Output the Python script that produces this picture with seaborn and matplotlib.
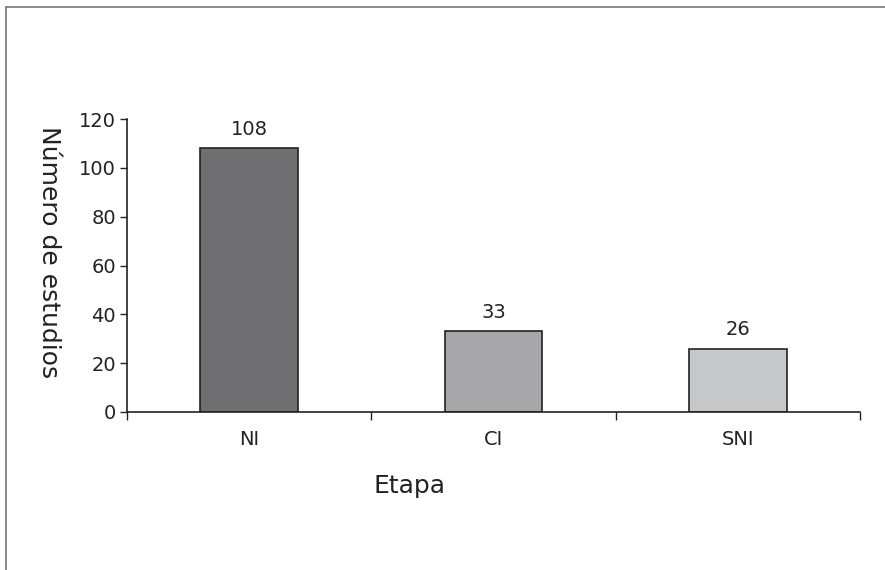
import matplotlib
matplotlib.use("Agg")
import matplotlib.pyplot as plt
import seaborn as sns
import pandas as pd

# data
etapas = ["NI", "CI", "SNI"]
estudios = [108, 33, 26]
colores = ["#6e6f73", "#a6a7aa", "#c6c7c9"]
yticks = [0, 20, 40, 60, 80, 100, 120]

df = pd.DataFrame({"Etapa": etapas, "Estudios": estudios})

sns.set_style("white")
plt.rcParams["font.family"] = ["DejaVu Sans"]

fig = plt.figure(figsize=(8.85, 5.70), dpi=100)
ax = fig.add_axes([0.1435, 0.2772, 0.8283, 0.514])

sns.barplot(data=df, x="Etapa", y="Estudios", hue="Etapa", palette=colores,
            width=0.4, edgecolor="#222222", linewidth=1.2, legend=False, ax=ax)

for i, v in enumerate(estudios):
    ax.text(i, v + 4, str(v), ha="center", va="bottom", fontsize=14, color="#222222")

ax.set_ylim(0, 120)
ax.set_xlim(-0.5, len(etapas) - 0.5)
ax.set_yticks(yticks)
ax.tick_params(axis="y", labelsize=14, length=5, width=1, colors="#222222", pad=3, direction="out", left=True)
ax.tick_params(axis="x", which="major", labelsize=14, length=0, pad=13, colors="#222222")
ax.set_xticks([i - 0.5 for i in range(len(etapas) + 1)], minor=True)
ax.tick_params(axis="x", which="minor", length=6, width=1, color="#222222", bottom=True, direction="out")

for s in ["top", "right"]:
    ax.spines[s].set_visible(False)
for s in ["left", "bottom"]:
    ax.spines[s].set_color("#222222")
    ax.spines[s].set_linewidth(1.2)

ax.set_ylabel("Número de estudios", fontsize=18, color="#222222", rotation=-90, va="center", ha="center")
ax.set_xlabel("Etapa", fontsize=18, color="#222222")
ax.yaxis.set_label_coords(-0.106, 0.546)
ax.xaxis.set_label_coords(0.386, -0.21)

# outer frame like the original figure box
fig.add_artist(plt.Line2D([0.007, 0.007], [0, 0.988], color="#777777", lw=1.2))
fig.add_artist(plt.Line2D([0.007, 1.0], [0.988, 0.988], color="#777777", lw=1.2))

fig.savefig("out.png", dpi=100)
